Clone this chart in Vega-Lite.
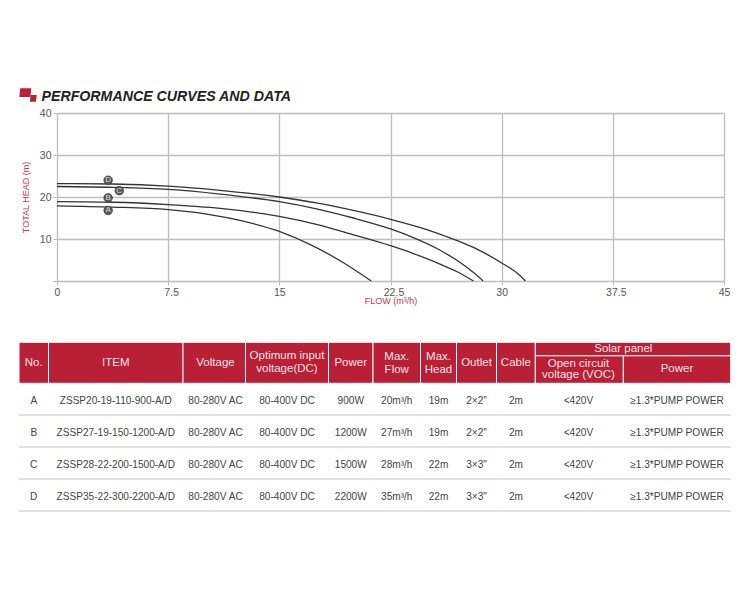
{
"$schema":"https://vega.github.io/schema/vega-lite/v6.json",
"autosize":{"type":"none"},
"width":667,"height":168,
"padding":{"left":57,"top":113,"right":26,"bottom":319},
"background":"white",
"config":{"view":{"stroke":null},"font":"Liberation Sans"},
"title":{"text":"PERFORMANCE CURVES AND DATA","anchor":"start","frame":"group","dx":-15.5,"offset":-16,"font":"Liberation Sans","fontSize":14.2,"fontStyle":"italic","fontWeight":"bold","color":"#222222"},
"datasets":{
"curves":[
{"pump":"A","flow":0,"head":17.9},{"pump":"A","flow":3.75,"head":17.6},{"pump":"A","flow":7.5,"head":17},{"pump":"A","flow":10,"head":16},{"pump":"A","flow":12.5,"head":14.3},{"pump":"A","flow":15,"head":11.8},{"pump":"A","flow":17.3,"head":8.3},{"pump":"A","flow":19.3,"head":4.4},{"pump":"A","flow":21.2,"head":0},
{"pump":"B","flow":0,"head":18.9},{"pump":"B","flow":3.75,"head":18.75},{"pump":"B","flow":7.5,"head":18.2},{"pump":"B","flow":11,"head":17.3},{"pump":"B","flow":15,"head":15.4},{"pump":"B","flow":17.5,"head":13.5},{"pump":"B","flow":20,"head":11},{"pump":"B","flow":22.5,"head":8.4},{"pump":"B","flow":24,"head":6.6},{"pump":"B","flow":26,"head":3.8},{"pump":"B","flow":27,"head":2.2},{"pump":"B","flow":28.1,"head":0},
{"pump":"C","flow":0,"head":22.5},{"pump":"C","flow":3.75,"head":22.3},{"pump":"C","flow":7.5,"head":21.8},{"pump":"C","flow":11,"head":20.7},{"pump":"C","flow":15,"head":18.9},{"pump":"C","flow":17.5,"head":17.2},{"pump":"C","flow":20,"head":15},{"pump":"C","flow":22.5,"head":12.4},{"pump":"C","flow":24,"head":10.4},{"pump":"C","flow":25.6,"head":7.8},{"pump":"C","flow":27.2,"head":4.4},{"pump":"C","flow":28.1,"head":2},{"pump":"C","flow":28.75,"head":0},
{"pump":"D","flow":0,"head":23.2},{"pump":"D","flow":3.75,"head":23.1},{"pump":"D","flow":7.5,"head":22.6},{"pump":"D","flow":11,"head":21.6},{"pump":"D","flow":15,"head":20},{"pump":"D","flow":17.5,"head":18.6},{"pump":"D","flow":20,"head":16.8},{"pump":"D","flow":22.5,"head":14.7},{"pump":"D","flow":25,"head":12.2},{"pump":"D","flow":27,"head":9.6},{"pump":"D","flow":28.5,"head":7.3},{"pump":"D","flow":30,"head":4.3},{"pump":"D","flow":31,"head":2},{"pump":"D","flow":31.6,"head":0}
],
"badges":[{"pump":"A","flow":3.45,"head":16.8},{"pump":"B","flow":3.45,"head":19.8},{"pump":"C","flow":4.2,"head":21.5},{"pump":"D","flow":3.45,"head":24}],
"logo":[{"part":"large"},{"part":"small"}],
"cells":[
{"from":0,"to":1,"top":0,"bottom":1},{"from":1,"to":2,"top":0,"bottom":1},{"from":2,"to":3,"top":0,"bottom":1},{"from":3,"to":4,"top":0,"bottom":1},{"from":4,"to":5,"top":0,"bottom":1},{"from":5,"to":6,"top":0,"bottom":1},{"from":6,"to":7,"top":0,"bottom":1},{"from":7,"to":8,"top":0,"bottom":1},{"from":8,"to":9,"top":0,"bottom":1},{"from":9,"to":11,"top":0,"bottom":0.33},{"from":9,"to":10,"top":0.33,"bottom":1},{"from":10,"to":11,"top":0.33,"bottom":1}
],
"rules":[{"row":2},{"row":3},{"row":4},{"row":5}],
"header":[
{"col":0.5,"row":0.5,"text":"No."},{"col":1.5,"row":0.5,"text":"ITEM"},{"col":2.52,"row":0.5,"text":"Voltage"},{"col":3.5,"row":0.34,"text":"Optimum input\nvoltage(DC)"},{"col":4.5,"row":0.5,"text":"Power"},{"col":5.5,"row":0.37,"text":"Max.\nFlow"},{"col":6.5,"row":0.37,"text":"Max.\nHead"},{"col":7.5,"row":0.5,"text":"Outlet"},{"col":8.5,"row":0.5,"text":"Cable"},{"col":10,"row":0.165,"text":"Solar panel"},{"col":10.5,"row":0.66,"text":"Power"}
],
"headerTight":[{"col":9.49,"row":0.53,"text":"Open circuit\nvoltage (VOC)"}],
"body":[
{"col":0.5,"row":1.57,"text":"A"},{"col":1.5,"row":1.57,"text":"ZSSP20-19-110-900-A/D"},{"col":2.52,"row":1.57,"text":"80-280V AC"},{"col":3.5,"row":1.57,"text":"80-400V DC"},{"col":4.5,"row":1.57,"text":"900W"},{"col":5.5,"row":1.57,"text":"20m³/h"},{"col":6.5,"row":1.57,"text":"19m"},{"col":7.5,"row":1.57,"text":"2×2\""},{"col":8.5,"row":1.57,"text":"2m"},{"col":9.49,"row":1.57,"text":"<420V"},{"col":10.5,"row":1.57,"text":"≥1.3*PUMP POWER"},
{"col":0.5,"row":2.57,"text":"B"},{"col":1.5,"row":2.57,"text":"ZSSP27-19-150-1200-A/D"},{"col":2.52,"row":2.57,"text":"80-280V AC"},{"col":3.5,"row":2.57,"text":"80-400V DC"},{"col":4.5,"row":2.57,"text":"1200W"},{"col":5.5,"row":2.57,"text":"27m³/h"},{"col":6.5,"row":2.57,"text":"19m"},{"col":7.5,"row":2.57,"text":"2×2\""},{"col":8.5,"row":2.57,"text":"2m"},{"col":9.49,"row":2.57,"text":"<420V"},{"col":10.5,"row":2.57,"text":"≥1.3*PUMP POWER"},
{"col":0.5,"row":3.57,"text":"C"},{"col":1.5,"row":3.57,"text":"ZSSP28-22-200-1500-A/D"},{"col":2.52,"row":3.57,"text":"80-280V AC"},{"col":3.5,"row":3.57,"text":"80-400V DC"},{"col":4.5,"row":3.57,"text":"1500W"},{"col":5.5,"row":3.57,"text":"28m³/h"},{"col":6.5,"row":3.57,"text":"22m"},{"col":7.5,"row":3.57,"text":"3×3\""},{"col":8.5,"row":3.57,"text":"2m"},{"col":9.49,"row":3.57,"text":"<420V"},{"col":10.5,"row":3.57,"text":"≥1.3*PUMP POWER"},
{"col":0.5,"row":4.57,"text":"D"},{"col":1.5,"row":4.57,"text":"ZSSP35-22-300-2200-A/D"},{"col":2.52,"row":4.57,"text":"80-280V AC"},{"col":3.5,"row":4.57,"text":"80-400V DC"},{"col":4.5,"row":4.57,"text":"2200W"},{"col":5.5,"row":4.57,"text":"35m³/h"},{"col":6.5,"row":4.57,"text":"22m"},{"col":7.5,"row":4.57,"text":"3×3\""},{"col":8.5,"row":4.57,"text":"2m"},{"col":9.49,"row":4.57,"text":"<420V"},{"col":10.5,"row":4.57,"text":"≥1.3*PUMP POWER"}
]
},
"layer":[
{"data":{"name":"curves"},
 "mark":{"type":"line","color":"#333333","strokeWidth":1.3,"interpolate":"monotone"},
 "encoding":{
  "x":{"field":"flow","type":"quantitative","scale":{"domain":[0,45],"nice":false,"zero":false},
   "axis":{"values":[0,7.5,15,22.5,30,37.5,45],"format":".1~f","title":"FLOW  (m³/h)","titleFont":"Liberation Sans","titleFontSize":9,"titleFontWeight":"normal","titleColor":"#c0354c","titlePadding":-1,"labelFontSize":10.5,"labelColor":"#555555","labelPadding":2,"labelOffset":{"condition":{"test":"datum.value==7.5||datum.value==22.5||datum.value==37.5","value":3},"value":0},"labelFlush":false,"labelOverlap":false,"domain":false,"tickColor":"#b9b9b9","tickSize":4,"grid":true,"gridColor":"#bdbdbd","gridWidth":1.3}},
  "y":{"field":"head","type":"quantitative","scale":{"domain":[0,40],"nice":false,"zero":false},
   "axis":{"values":[0,10,20,30,40],"labelExpr":"datum.value==0?'':datum.label","title":"TOTAL  HEAD  (m)","titleFont":"Liberation Sans","titleFontSize":9,"titleFontWeight":"normal","titleColor":"#c0354c","titlePadding":9,"labelFontSize":10.5,"labelColor":"#555555","labelPadding":2,"labelOverlap":false,"domain":false,"tickColor":"#b9b9b9","tickSize":4,"grid":true,"gridColor":"#bdbdbd","gridWidth":1.3}},
  "detail":{"field":"pump"}
 }},
{"data":{"name":"badges"},
 "mark":{"type":"point","filled":true,"color":"#5a5a5a","stroke":"#3a3a3a","strokeWidth":0.8,"size":72,"opacity":1},
 "encoding":{
  "x":{"field":"flow","type":"quantitative","scale":{"domain":[0,45],"nice":false,"zero":false},"axis":null},
  "y":{"field":"head","type":"quantitative","scale":{"domain":[0,40],"nice":false,"zero":false},"axis":null}
 }},
{"data":{"name":"badges"},
 "mark":{"type":"text","color":"#dddddd","fontSize":8,"baseline":"middle","align":"center"},
 "encoding":{
  "x":{"field":"flow","type":"quantitative","scale":{"domain":[0,45],"nice":false,"zero":false},"axis":null},
  "y":{"field":"head","type":"quantitative","scale":{"domain":[0,40],"nice":false,"zero":false},"axis":null},
  "text":{"field":"pump"}
 }},
{"data":{"name":"logo"},
 "mark":{"type":"point","filled":true,"color":"#b91f35","opacity":1,"size":144},
 "encoding":{
  "x":{"field":"part","type":"nominal","scale":{"type":"point","domain":["large","small"],"range":[-31.7,-23.7],"padding":0},"axis":null},
  "y":{"field":"part","type":"nominal","scale":{"type":"point","domain":["large","small"],"range":[-20.4,-14.7],"padding":0},"axis":null},
  "shape":{"field":"part","type":"nominal","legend":null,"scale":{"domain":["large","small"],"range":["M-0.85,-0.72L1,-0.72L0.85,0.72L-1,0.72Z","M-0.45,-0.56L0.56,-0.56L0.45,0.56L-0.56,0.56Z"]}}
 }},
{"data":{"name":"cells"},
 "mark":{"type":"rect","color":"#b91f35","stroke":"white","strokeWidth":1},
 "encoding":{
  "x":{"field":"from","type":"quantitative","scale":{"domain":[0,1,2,3,4,5,6,7,8,9,10,11],"range":[-38,-8.5,126,188.5,271.5,316,363.5,399.5,439.5,478.3,566.3,673.7],"zero":false,"nice":false},"axis":null},
  "x2":{"field":"to"},
  "y":{"field":"top","type":"quantitative","scale":{"domain":[0,1,2,3,4,5],"range":[229.3,270.3,302,334,366,398],"zero":false,"nice":false},"axis":null},
  "y2":{"field":"bottom"}
 }},
{"data":{"name":"rules"},
 "mark":{"type":"rule","color":"#c4c4c4","strokeWidth":1.2},
 "encoding":{
  "x":{"datum":0,"type":"quantitative","scale":{"domain":[0,1],"range":[-38,673.7],"zero":false,"nice":false},"axis":null},
  "x2":{"datum":1},
  "y":{"field":"row","type":"quantitative","scale":{"domain":[0,1,2,3,4,5],"range":[229.3,270.3,302,334,366,398],"zero":false,"nice":false},"axis":null}
 }},
{"data":{"name":"header"},
 "mark":{"type":"text","color":"#f3e3e5","fontSize":11.5,"lineBreak":"\n","lineHeight":13,"baseline":"middle","align":"center"},
 "encoding":{
  "x":{"field":"col","type":"quantitative","scale":{"domain":[0,1,2,3,4,5,6,7,8,9,10,11],"range":[-38,-8.5,126,188.5,271.5,316,363.5,399.5,439.5,478.3,566.3,673.7],"zero":false,"nice":false},"axis":null},
  "y":{"field":"row","type":"quantitative","scale":{"domain":[0,1,2,3,4,5],"range":[229.3,270.3,302,334,366,398],"zero":false,"nice":false},"axis":null},
  "text":{"field":"text"}
 }},
{"data":{"name":"headerTight"},
 "mark":{"type":"text","color":"#f3e3e5","fontSize":11.5,"lineBreak":"\n","lineHeight":10.5,"baseline":"middle","align":"center"},
 "encoding":{
  "x":{"field":"col","type":"quantitative","scale":{"domain":[0,1,2,3,4,5,6,7,8,9,10,11],"range":[-38,-8.5,126,188.5,271.5,316,363.5,399.5,439.5,478.3,566.3,673.7],"zero":false,"nice":false},"axis":null},
  "y":{"field":"row","type":"quantitative","scale":{"domain":[0,1,2,3,4,5],"range":[229.3,270.3,302,334,366,398],"zero":false,"nice":false},"axis":null},
  "text":{"field":"text"}
 }},
{"data":{"name":"body"},
 "mark":{"type":"text","color":"#444444","fontSize":10.1,"baseline":"middle","align":"center"},
 "encoding":{
  "x":{"field":"col","type":"quantitative","scale":{"domain":[0,1,2,3,4,5,6,7,8,9,10,11],"range":[-38,-8.5,126,188.5,271.5,316,363.5,399.5,439.5,478.3,566.3,673.7],"zero":false,"nice":false},"axis":null},
  "y":{"field":"row","type":"quantitative","scale":{"domain":[0,1,2,3,4,5],"range":[229.3,270.3,302,334,366,398],"zero":false,"nice":false},"axis":null},
  "text":{"field":"text"}
 }}
],
"resolve":{"scale":{"x":"independent","y":"independent","shape":"independent"},"axis":{"x":"independent","y":"independent"}}
}
